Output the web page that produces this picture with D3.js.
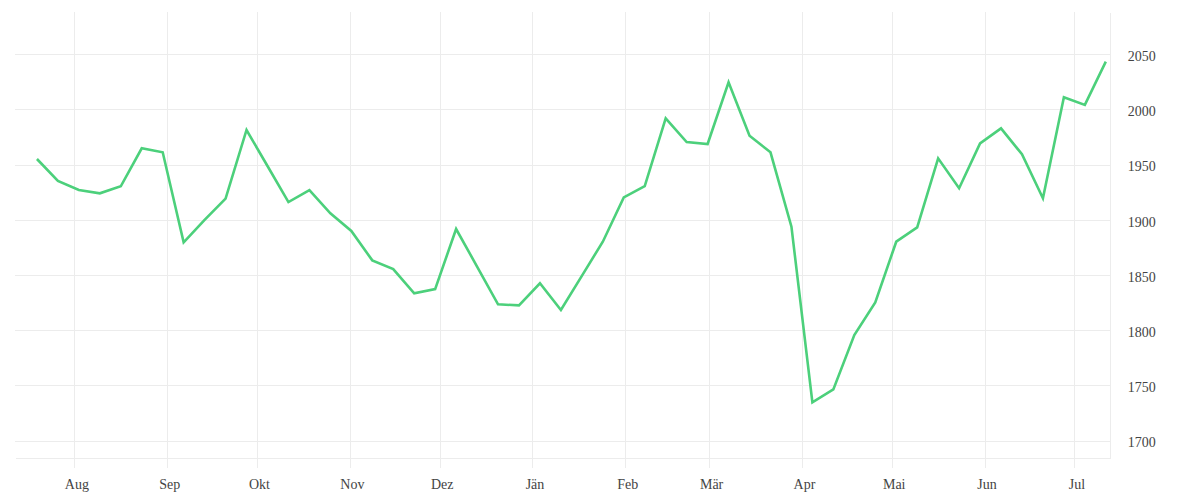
<!DOCTYPE html>
<html>
<head>
<meta charset="utf-8">
<script src="https://cdn.jsdelivr.net/npm/d3@7"></script>
<style>
  html, body { margin: 0; padding: 0; background: #fff; }
  svg { display: block; }
  .axis text { font-family: "Liberation Serif", serif; font-size: 14px; fill: #444; }
  .axis line, .axis path { stroke: #ececec; stroke-width: 1; shape-rendering: crispEdges; }
</style>
</head>
<body>
<svg id="chart" width="1200" height="500"></svg>
<script>
// ---- data ----
const dates = [
  "2022-07-19","2022-07-26","2022-08-02","2022-08-09","2022-08-16","2022-08-23","2022-08-30",
  "2022-09-06","2022-09-13","2022-09-20","2022-09-27","2022-10-04","2022-10-11","2022-10-18",
  "2022-10-25","2022-11-01","2022-11-08","2022-11-15","2022-11-22","2022-11-29","2022-12-06",
  "2022-12-13","2022-12-20","2022-12-27","2023-01-03","2023-01-10","2023-01-17","2023-01-24",
  "2023-01-31","2023-02-07","2023-02-14","2023-02-21","2023-02-28","2023-03-07","2023-03-14",
  "2023-03-21","2023-03-28","2023-04-04","2023-04-11","2023-04-18","2023-04-25","2023-05-02",
  "2023-05-09","2023-05-16","2023-05-23","2023-05-30","2023-06-06","2023-06-13","2023-06-20",
  "2023-06-27","2023-07-04","2023-07-11"
];
const values = [
  1955.1, 1935.2, 1927.0, 1924.0, 1930.4, 1964.8, 1961.2,
  1879.6, 1899.9, 1919.3, 1981.4, 1948.8, 1916.1, 1927.0,
  1905.9, 1889.9, 1863.3, 1855.4, 1833.4, 1837.3, 1891.7,
  1857.7, 1823.5, 1822.5, 1842.5, 1818.3, 1849.3, 1880.2,
  1920.4, 1930.6, 1992.0, 1970.5, 1968.7, 2024.6, 1976.2,
  1961.2, 1893.8, 1734.6, 1746.4, 1795.6, 1825.2, 1880.2,
  1893.2, 1955.7, 1928.6, 1969.3, 1982.9, 1959.4, 1919.5,
  2011.0, 2004.1, 2043.3
];
const monthTicks = ["2022-08-01","2022-09-01","2022-10-01","2022-11-01","2022-12-01","2023-01-01",
                    "2023-02-01","2023-03-01","2023-04-01","2023-05-01","2023-06-01","2023-07-01"];
const monthLabels = ["Aug","Sep","Okt","Nov","Dez","Jän","Feb","Mär","Apr","Mai","Jun","Jul"];
const yTicks = [1700, 1750, 1800, 1850, 1900, 1950, 2000, 2050];
const xDomain = ["2022-07-12T04:00:00Z", "2023-07-13T00:00:00Z"];
const yDomain = [1684, 2088];

// ---- layout ----
const plotLeft = 15, plotRight = 1110.3, plotTop = 12.3, plotBottom = 458.3;
const svg = d3.select("#chart");

const x = d3.scaleUtc().domain(xDomain.map(d => new Date(d))).range([plotLeft, plotRight]);
const y = d3.scaleLinear().domain(yDomain).range([plotBottom, plotTop]);

const data = dates.map((d, i) => ({ date: new Date(d + "T12:00:00Z"), value: values[i] }));

// x axis with vertical gridlines
const xAxis = d3.axisBottom(x)
  .tickValues(monthTicks.map(d => new Date(d + "T00:00:00Z")))
  .tickFormat((d, i) => monthLabels[i])
  .tickSizeOuter(0)
  .tickSizeInner(0);
const gx = svg.append("g").attr("class", "axis x")
  .attr("transform", `translate(0,${plotBottom})`)
  .call(xAxis);
gx.selectAll(".tick line").attr("y1", 10).attr("y2", plotTop - plotBottom);
gx.selectAll(".tick text").attr("y", 20.5).attr("dy", "0.71em").attr("dx", 2);

// y axis on the right with horizontal gridlines
const yAxis = d3.axisRight(y)
  .tickValues(yTicks)
  .tickFormat(d3.format("d"))
  .tickSizeInner(-(plotRight - plotLeft))
  .tickSizeOuter(0)
  .tickPadding(17.4);
const gy = svg.append("g").attr("class", "axis y")
  .attr("transform", `translate(${plotRight},0)`)
  .call(yAxis);
gy.selectAll(".tick text").attr("dy", "0.45em");

// line
const line = d3.line().x(d => x(d.date)).y(d => y(d.value));
svg.append("path")
  .datum(data)
  .attr("fill", "none")
  .attr("stroke", "#4cd07b")
  .attr("stroke-width", 2.6)
  .attr("stroke-linejoin", "miter")
  .attr("d", line);
</script>
</body>
</html>
